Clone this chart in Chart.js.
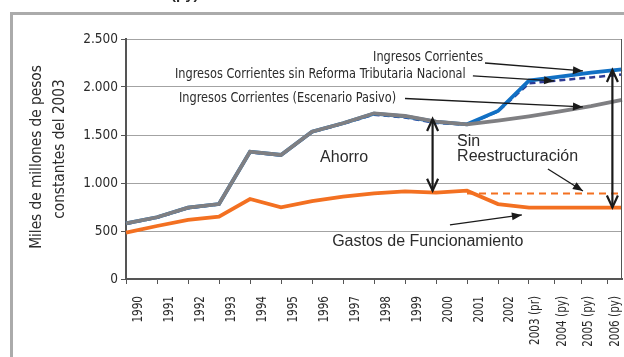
<!DOCTYPE html>
<html>
<head>
<meta charset="utf-8">
<script src="https://cdn.jsdelivr.net/npm/chart.js@4.4.1/dist/chart.umd.min.js"></script>
<style>
  html, body { margin: 0; padding: 0; background: #fff; overflow: hidden; }
  canvas { display: block; }
</style>
</head>
<body>
<canvas id="ingresos" width="624" height="357"></canvas>
<script>
/* global Chart */

// Miles de millones de pesos constantes de 2003
const YEARS = ['1990', '1991', '1992', '1993', '1994', '1995', '1996', '1997', '1998',
  '1999', '2000', '2001', '2002', '2003 (pr)', '2004 (py)', '2005 (py)', '2006 (py)'];
const Y_TICKS = [0, 500, 1000, 1500, 2000, 2500];

const PASIVO        = [580, 643, 743, 781, 1326, 1292, 1534, 1622, 1726, 1698, 1639, 1611, 1650, 1695, 1745, 1800, 1865];
const CORRIENTES    = [580, 643, 743, 781, 1326, 1292, 1534, 1622, 1722, 1694, 1636, 1611, 1750, 2066, 2108, 2149, 2184];
const SIN_REFORMA   = [575, 638, 738, 776, 1320, 1287, 1529, 1617, 1712, 1683, 1626, 1608, 1745, 2038, 2070, 2100, 2130];
const GASTOS        = [482, 552, 615, 649, 833, 747, 812, 857, 893, 913, 899, 920, 781, 743, 743, 743, 743];
const SIN_REESTRUCT = [null, null, null, null, null, null, null, null, null, null, null, 890, 890, 890, 890, 890, 890];

const NARROW = '"DejaVu Sans Condensed", "Liberation Sans Narrow", sans-serif';
const PLAIN = '"Liberation Sans", Arial, sans-serif';
const INK = '#2b2b2b';
const SQUEEZE = 0.9; // horizontal squeeze for the condensed face

// Texts and arrows, placed in axis units (x = year index, y = value)
const NOTES = [
  { text: 'Ingresos Corrientes', x: 7.97, y: 2313, font: `14px ${NARROW}`, squeeze: SQUEEZE },
  { text: 'Ingresos Corrientes sin Reforma Tributaria Nacional', x: 1.58, y: 2135, font: `14px ${NARROW}`, squeeze: SQUEEZE },
  { text: 'Ingresos Corrientes (Escenario Pasivo)', x: 1.71, y: 1885, font: `14px ${NARROW}`, squeeze: SQUEEZE },
  { text: 'Ahorro', x: 6.26, y: 1260, font: `16px ${PLAIN}`, squeeze: 1 },
  { text: 'Sin', x: 10.68, y: 1427, font: `16px ${PLAIN}`, squeeze: 1 },
  { text: 'Reestructuración', x: 10.68, y: 1271, font: `16px ${PLAIN}`, squeeze: 1 },
  { text: 'Gastos de Funcionamiento', x: 6.65, y: 385, font: `16px ${PLAIN}`, squeeze: 1 },
];
const POINTERS = [
  [11.58, 2250, 14.74, 2167],
  [11.19, 2115, 13.81, 2063],
  [9.0, 1880, 14.74, 1792],
  [13.61, 1146, 14.74, 917],
  [10.45, 563, 12.77, 667],
];
const SPANS = [
  { x: 9.89, from: 1667, to: 920 },
  { x: 15.69, from: 2177, to: 745 },
];

function thousands(v) {
  return String(v).replace(/\B(?=(\d{3})+(?!\d))/g, '.');
}

function filledHead(ctx, x0, y0, x1, y1, len, half) {
  const a = Math.atan2(y1 - y0, x1 - x0);
  ctx.beginPath();
  ctx.moveTo(x1, y1);
  ctx.lineTo(x1 - len * Math.cos(a) + half * Math.sin(a), y1 - len * Math.sin(a) - half * Math.cos(a));
  ctx.lineTo(x1 - len * Math.cos(a) - half * Math.sin(a), y1 - len * Math.sin(a) + half * Math.cos(a));
  ctx.closePath();
  ctx.fill();
}

function openHead(ctx, x, y, dir) {
  ctx.beginPath();
  ctx.moveTo(x - 5.5, y + dir * 12);
  ctx.lineTo(x, y);
  ctx.lineTo(x + 5.5, y + dir * 12);
  ctx.stroke();
}

// Year labels sit just right of each tick; the tail ones close up so the last fits inside the frame
function yearLabelX(scale, area, i) {
  const n = YEARS.length;
  return Math.min(scale.getPixelForTick(i) + 12, area.right - 7 - (n - 1 - i) * 26.5);
}

const decorations = {
  id: 'decorations',
  beforeDraw(chart) {
    const ctx = chart.ctx;
    ctx.save();
    // outer frame
    ctx.strokeStyle = '#ababab';
    ctx.lineWidth = 3;
    ctx.beginPath();
    ctx.moveTo(11.5, 400);
    ctx.lineTo(11.5, 13.5);
    ctx.lineTo(700, 13.5);
    ctx.stroke();
    // foot of the heading above the frame
    ctx.fillStyle = INK;
    ctx.font = `bold 15px ${PLAIN}`;
    ctx.textBaseline = 'alphabetic';
    ctx.fillText('(py)', 171, -1);
    ctx.restore();
  },
  afterDraw(chart) {
    const ctx = chart.ctx;
    const area = chart.chartArea;
    const sx = chart.scales.x;
    const sy = chart.scales.y;
    const px = (v) => sx.getPixelForValue(v);
    const py = (v) => sy.getPixelForValue(v);
    ctx.save();

    // right edge of the plot
    ctx.strokeStyle = '#555';
    ctx.lineWidth = 1;
    ctx.beginPath();
    ctx.moveTo(area.right - 0.5, area.top);
    ctx.lineTo(area.right - 0.5, area.bottom);
    ctx.stroke();

    // x tick marks and year labels
    ctx.fillStyle = INK;
    ctx.font = `14.5px ${NARROW}`;
    ctx.textAlign = 'right';
    ctx.textBaseline = 'middle';
    YEARS.forEach((label, i) => {
      const lx = yearLabelX(sx, area, i);
      const tx = Math.round(Math.min(sx.getPixelForTick(i), lx - 8)) + 0.5;
      ctx.beginPath();
      ctx.moveTo(tx, area.bottom);
      ctx.lineTo(tx, area.bottom + 5);
      ctx.stroke();
      ctx.save();
      ctx.translate(lx, area.bottom + 17);
      ctx.rotate(-Math.PI / 2);
      ctx.scale(0.8, 1);
      ctx.fillText(label, 0, 0);
      ctx.restore();
    });

    // axis title
    ctx.font = `16px ${NARROW}`;
    ctx.textAlign = 'center';
    ctx.save();
    ctx.translate(37, 157);
    ctx.rotate(-Math.PI / 2);
    ctx.scale(SQUEEZE + 0.05, 1);
    ctx.fillText('Miles de millones de pesos', 0, 0);
    ctx.restore();
    ctx.save();
    ctx.translate(60, 149);
    ctx.rotate(-Math.PI / 2);
    ctx.scale(SQUEEZE + 0.05, 1);
    ctx.fillText('constantes del 2003', 0, 0);
    ctx.restore();

    // annotation texts
    ctx.textAlign = 'left';
    NOTES.forEach((n) => {
      ctx.save();
      ctx.font = n.font;
      ctx.translate(px(n.x), py(n.y));
      ctx.scale(n.squeeze, 1);
      ctx.fillText(n.text, 0, 0);
      ctx.restore();
    });

    // pointer arrows
    ctx.strokeStyle = '#1a1a1a';
    ctx.fillStyle = '#1a1a1a';
    ctx.lineWidth = 1.3;
    POINTERS.forEach(([x0, y0, x1, y1]) => {
      const a = [px(x0), py(y0)];
      const b = [px(x1), py(y1)];
      ctx.beginPath();
      ctx.moveTo(a[0], a[1]);
      ctx.lineTo(b[0], b[1]);
      ctx.stroke();
      filledHead(ctx, a[0], a[1], b[0], b[1], 10, 4);
    });

    // double-headed gaps
    ctx.lineWidth = 2.2;
    SPANS.forEach((s) => {
      const x = px(s.x);
      const top = py(s.from);
      const bot = py(s.to);
      ctx.beginPath();
      ctx.moveTo(x, top);
      ctx.lineTo(x, bot);
      ctx.stroke();
      openHead(ctx, x, top, 1);
      openHead(ctx, x, bot, -1);
    });
    ctx.restore();
  },
};

new Chart(document.getElementById('ingresos'), {
  type: 'line',
  data: {
    labels: YEARS,
    datasets: [
      { label: 'Ingresos Corrientes (Escenario Pasivo)', data: PASIVO, borderColor: '#7f7f82', borderWidth: 3.8, order: 0 },
      { label: 'Gastos de Funcionamiento', data: GASTOS, borderColor: '#f37021', borderWidth: 3.8, order: 1 },
      { label: 'Sin Reestructuración', data: SIN_REESTRUCT, borderColor: '#f37021', borderWidth: 2, borderDash: [7, 5], order: 2 },
      { label: 'Ingresos Corrientes', data: CORRIENTES, borderColor: '#1170c4', borderWidth: 3.8, order: 3 },
      { label: 'Ingresos Corrientes sin Reforma Tributaria Nacional', data: SIN_REFORMA, borderColor: '#2e3a94', borderWidth: 2.5, borderDash: [6, 4], order: 4 },
    ],
  },
  options: {
    responsive: false,
    animation: false,
    events: [],
    elements: { point: { radius: 0 }, line: { tension: 0, fill: false, borderCapStyle: 'butt' } },
    layout: { padding: { top: 39, left: 0, right: 2, bottom: 0 } },
    plugins: { legend: { display: false }, tooltip: { enabled: false } },
    scales: {
      x: {
        offset: false,
        grid: { drawOnChartArea: false, drawTicks: false },
        border: { color: '#555', width: 2 },
        ticks: { display: false, autoSkip: false },
        afterFit(scale) {
          scale.height = 78;
          scale.paddingLeft = 0;
          scale.paddingRight = 0;
        },
      },
      y: {
        min: 0,
        max: 2500,
        afterBuildTicks(scale) {
          scale.ticks = Y_TICKS.map((v) => ({ value: v }));
        },
        grid: { color: '#a3a3a3', lineWidth: 1, tickLength: 5, tickColor: '#555' },
        border: { color: '#555', width: 2 },
        ticks: {
          padding: 3,
          color: INK,
          font: { family: NARROW, size: 13.5 },
          callback: (v) => thousands(v),
        },
        afterFit(scale) {
          scale.width = 126;
          scale.paddingTop = 0;
          scale.paddingBottom = 0;
        },
      },
    },
  },
  plugins: [decorations],
});
</script>
</body>
</html>
